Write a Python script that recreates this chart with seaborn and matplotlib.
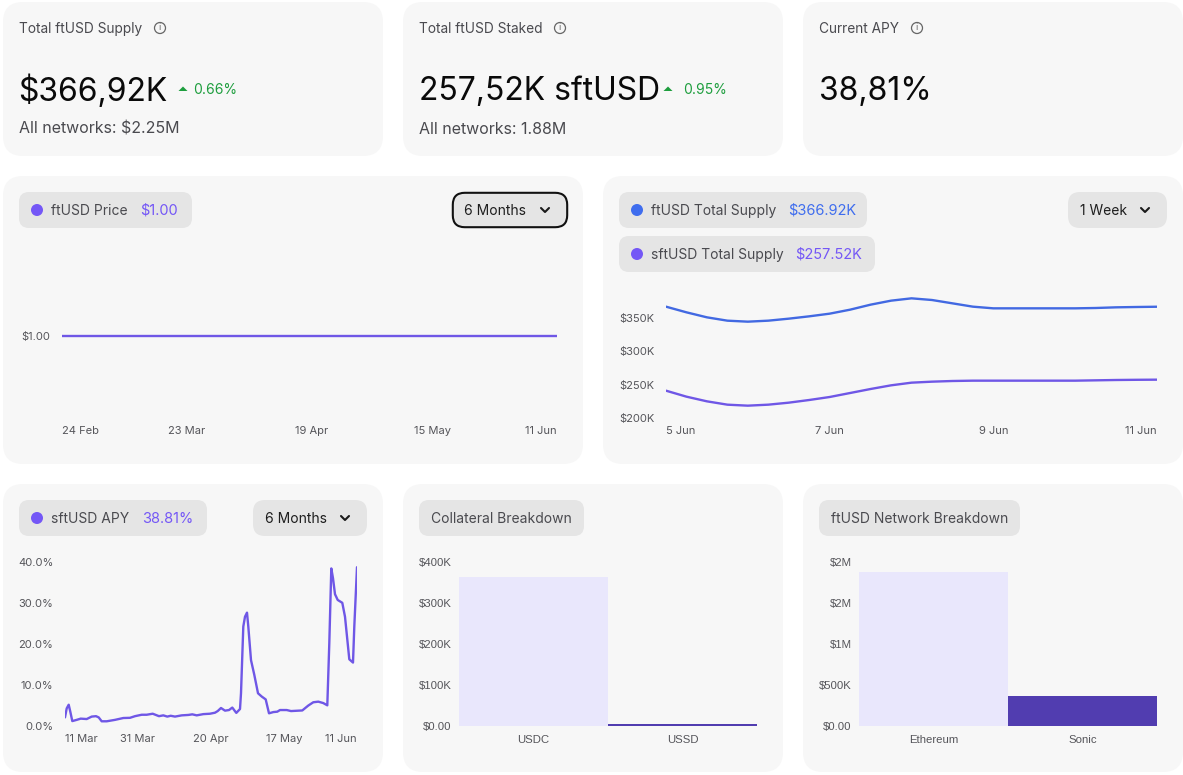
import matplotlib
matplotlib.use("Agg")
import matplotlib.pyplot as plt
from matplotlib.patches import FancyBboxPatch, Circle, Polygon
import pandas as pd
import seaborn as sns

# price chart
price_days = [0, 27, 54, 80, 107]
price_values = [1.0, 1.0, 1.0, 1.0, 1.0]
price_labels = ["24 Feb", "23 Mar", "19 Apr", "15 May", "11 Jun"]

# supply chart, one reading every 6 hours, in thousands
supply_days = [i / 4 for i in range(25)]
ftusd_supply = [367, 358.5, 351, 346, 344.5, 346, 349, 352.5, 356.5, 362.5, 370, 376, 379.5,
                377, 372, 367, 364.5, 364.5, 364.5, 364.5, 364.5, 365, 366, 366.5, 366.9]
sftusd_supply = [241, 232, 225, 220, 218.5, 220, 223, 227, 231.5, 237.5, 243.5, 249, 253,
                 254.5, 255.5, 256, 256, 256, 256, 256, 256, 256.5, 257, 257.3, 257.5]
supply_ticks = [0, 2, 4, 6]
supply_labels = ["5 Jun", "7 Jun", "9 Jun", "11 Jun"]

# apy chart, samples are not evenly spaced in time
apy_step = [0, 0.85, 1.85, 2.65, 3.65, 5.85, 7.85, 10.85, 13.35, 15.5, 16.85, 18.35, 20.85, 25, 29.15,
            32.5, 35, 38.35, 40.85, 43.85, 47, 49.15, 51.15, 52.85, 55, 58.35, 61.65, 63.65, 65.85, 69.15,
            72.5, 75, 76.35, 78, 80, 82, 83.65, 85.65, 87.5, 88, 89.15, 90, 91, 91.65, 93, 94.65, 96.5,
            98.35, 100.35, 102, 104.15, 106.15, 107.5, 110.85, 113, 118.65, 121.65, 124.15, 126.65, 129.15,
            131.15, 132.15, 133.15, 134, 135, 136.35, 138.65, 140, 142.15, 144, 144.65, 146]
apy_values = [2.1, 4.3, 5.2, 3.5, 1.2, 1.5, 1.8, 1.7, 2.3, 2.4, 2.1, 1.15, 1.15, 1.5, 1.95,
              2.0, 2.4, 2.75, 2.75, 3.0, 2.4, 2.6, 2.3, 2.5, 2.3, 2.6, 2.7, 2.85, 2.6, 2.9,
              3.0, 3.25, 3.65, 4.4, 3.75, 3.9, 4.5, 3.2, 4.15, 8, 24.3, 26.7, 27.7, 24.3, 16.1, 12.5, 8.0,
              7.2, 6.5, 3.1, 3.4, 3.5, 3.9, 3.9, 3.65, 3.8, 5.0, 5.8, 5.95, 5.6,
              5.05, 20.2, 38.5, 36.1, 32.2, 30.8, 30.1, 26.7, 16.3, 15.5, 24.3, 38.8]
apy_ticks = [8, 36.5, 73, 109.5, 138]
apy_labels = ["11 Mar", "31 Mar", "20 Apr", "17 May", "11 Jun"]

# bars
collateral_names = ["USDC", "USSD"]
collateral_values = [364000, 4000]
network_names = ["Ethereum", "Sonic"]
network_values = [1880000, 366920]

CARD = "#F7F7F7"
PILL = "#E5E5E5"
PURPLE = "#7457F6"
BLUE = "#3F6DEE"
LINE_PURPLE = "#6F57E6"
LINE_BLUE = "#4269E2"
GREY = "#4A4A4F"
TICK = "#55555A"
GREEN = "#1E9E3E"

sns.set_theme(style="white")
plt.rcParams["font.family"] = ["Inter", "DejaVu Sans"]

fig = plt.figure(figsize=(11.83, 7.75), dpi=100, facecolor="white")
bg = fig.add_axes([0, 0, 1, 1])
bg.set_xlim(0, 1183)
bg.set_ylim(775, 0)
bg.axis("off")


def box(x0, y0, x1, y1, r, color, edge="none", lw=0):
    bg.add_patch(FancyBboxPatch((x0, y0), x1 - x0, y1 - y0, boxstyle=f"round,pad=0,rounding_size={r}",
                                facecolor=color, edgecolor=edge, linewidth=lw))


def txt(x, y, s, size, color=GREY, **kw):
    bg.text(x, y + 1, s, fontsize=size, color=color, va="center", ha="left", **kw)


def info(x, y):
    bg.add_patch(Circle((x, y), 5.5, facecolor="none", edgecolor="#666666", linewidth=0.9))
    bg.text(x, y, "i", fontsize=6.5, color="#666666", ha="center", va="center")


def chevron(x, y, color="#1A1A1A"):
    bg.plot([x - 4, x, x + 4], [y - 2, y + 2, y - 2], color=color, lw=1.5, solid_capstyle="round")


def arrow_up(x, y):
    bg.add_patch(Polygon([(x - 4.5, y + 2), (x + 4.5, y + 2), (x, y - 2.5)], facecolor=GREEN, edgecolor="none"))


def pill(x0, y0, x1, name, value=None, vx=None, vcolor=PURPLE, dot=None):
    box(x0, y0, x1, y0 + 36, 10, PILL)
    ty = y0 + 18
    if dot is not None:
        bg.add_patch(Circle((x0 + 18, ty), 6, facecolor=dot, edgecolor="none"))
        txt(x0 + 32, ty, name, 10.0)
        txt(vx, ty, value, 10.5, color=vcolor)
    else:
        txt(x0 + 12, ty, name, 10.0)


def dropdown(x0, y0, x1, label, chev, border=False):
    if border:
        box(x0 + 0.8, y0 + 0.8, x1 - 0.8, y0 + 35.2, 12, PILL, edge="#111111", lw=1.5)
    else:
        box(x0, y0, x1, y0 + 36, 12, PILL)
    txt(x0 + 12.5, y0 + 18, label, 10.0, color="#1E1E1E")
    chevron(chev, y0 + 18)


# cards
for x0, x1 in [(3, 383), (403, 783), (803, 1183)]:
    box(x0, 2, x1, 156, 20, CARD)
    box(x0, 484, x1, 772, 20, CARD)
box(3, 176, 583, 464, 20, CARD)
box(603, 176, 1183, 464, 20, CARD)

# top row
txt(19, 28, "Total ftUSD Supply", 9.85)
info(160, 28)
txt(18.5, 90, "$366,92K", 23.0, color="#0A0A0A")
arrow_up(183, 89)
txt(193, 88.5, "0.66%", 10.0, color=GREEN)
txt(19, 128, "All networks: $2.25M", 11.5)

txt(419, 28, "Total ftUSD Staked", 9.85)
info(560, 28)
txt(419, 90, "257,52K sftUSD", 23.0, color="#0A0A0A")
arrow_up(668, 89)
txt(683, 88.5, "0.95%", 10.0, color=GREEN)
txt(419, 128, "All networks: 1.88M", 11.5)

txt(819, 28, "Current APY", 9.85)
info(917, 28)
txt(819, 90, "38,81%", 23.0, color="#0A0A0A")

# pills
pill(19, 192, 192, "ftUSD Price", "$1.00", 140, dot=PURPLE)
dropdown(452, 192, 568, "6 Months", 545, border=True)
pill(619, 192, 867, "ftUSD Total Supply", "$366.92K", 788, vcolor=BLUE, dot=BLUE)
pill(619, 236, 875, "sftUSD Total Supply", "$257.52K", 795, dot=PURPLE)
dropdown(1068, 192, 1167, "1 Week", 1145)
pill(19, 500, 207, "sftUSD APY", "38.81%", 142, dot=PURPLE)
dropdown(253, 500, 367, "6 Months", 345)
pill(419, 500, 584, "Collateral Breakdown")
pill(819, 500, 1020, "ftUSD Network Breakdown")


def chart(x0, y0, x1, y1):
    ax = fig.add_axes([x0 / 1183, 1 - y1 / 775, (x1 - x0) / 1183, (y1 - y0) / 775])
    ax.patch.set_alpha(0)
    sns.despine(ax=ax, left=True, bottom=True)
    return ax


def style_ticks(ax, size=8, family=None, xpad=3.5, ypad=8.5):
    ax.set_xlabel("")
    ax.set_ylabel("")
    ax.tick_params(axis="both", length=0, labelsize=size, labelcolor=TICK)
    ax.tick_params(axis="x", pad=xpad)
    ax.tick_params(axis="y", pad=ypad)
    if family:
        for t in ax.get_xticklabels() + ax.get_yticklabels():
            t.set_family(family)


# price
ax = chart(62, 252, 557, 420)
sns.lineplot(x=price_days, y=price_values, color=LINE_PURPLE, linewidth=1.7, ax=ax, estimator=None, errorbar=None)
ax.set_xlim(0, 107)
ax.set_ylim(0, 2)
ax.set_yticks([1])
ax.set_yticklabels(["$1.00"])
ax.set_xticks(price_days)
ax.set_xticklabels(price_labels)
style_ticks(ax, xpad=4.3)
ax.get_xticklabels()[0].set_ha("left")
ax.get_xticklabels()[-1].set_ha("right")

# supply
ax = chart(666, 290, 1157, 418)
df = pd.DataFrame({"day": supply_days, "ft": ftusd_supply, "sft": sftusd_supply})
sns.lineplot(data=df, x="day", y="ft", color=LINE_BLUE, linewidth=1.7, ax=ax, estimator=None, errorbar=None)
sns.lineplot(data=df, x="day", y="sft", color=LINE_PURPLE, linewidth=1.7, ax=ax, estimator=None, errorbar=None)
ax.set_xlim(0, 6)
ax.set_ylim(200, 392)
ax.set_yticks([200, 250, 300, 350])
ax.set_yticklabels(["$200K", "$250K", "$300K", "$350K"])
ax.set_xticks(supply_ticks)
ax.set_xticklabels(supply_labels)
style_ticks(ax, xpad=5.7)
ax.get_xticklabels()[0].set_ha("left")
ax.get_xticklabels()[-1].set_ha("right")

# apy
ax = chart(65, 562.3, 357, 726)
sns.lineplot(x=apy_step, y=apy_values, color=LINE_PURPLE, linewidth=1.7, ax=ax, estimator=None, errorbar=None)
ax.set_xlim(0, 146)
ax.set_ylim(0, 40)
ax.set_yticks([0, 10, 20, 30, 40])
ax.set_yticklabels(["0.0%", "10.0%", "20.0%", "30.0%", "40.0%"])
ax.set_xticks(apy_ticks)
ax.set_xticklabels(apy_labels)
style_ticks(ax, xpad=5.5)


# bars
def bars(x0, x1, names, values, ymax, yticks, ylabels):
    ax = chart(x0, 562.3, x1, 726)
    sns.barplot(x=names, y=values, hue=names, palette=["#E9E7FC", "#513DB0"], width=1, legend=False,
                saturation=1, linewidth=0, ax=ax)
    ax.set_xlim(-0.5, 1.5)
    ax.set_ylim(0, ymax)
    ax.set_yticks(yticks)
    ax.set_yticklabels(ylabels)
    style_ticks(ax, size=8.2, family="Liberation Sans", xpad=6.5, ypad=5.5)


bars(459, 757, collateral_names, collateral_values, 400000,
     [0, 100000, 200000, 300000, 400000], ["$0.00", "$100K", "$200K", "$300K", "$400K"])
bars(859, 1157, network_names, network_values, 2000000,
     [0, 500000, 1000000, 1500000, 2000000], ["$0.00", "$500K", "$1M", "$2M", "$2M"])

fig.savefig("out.png", dpi=100, facecolor="white")
